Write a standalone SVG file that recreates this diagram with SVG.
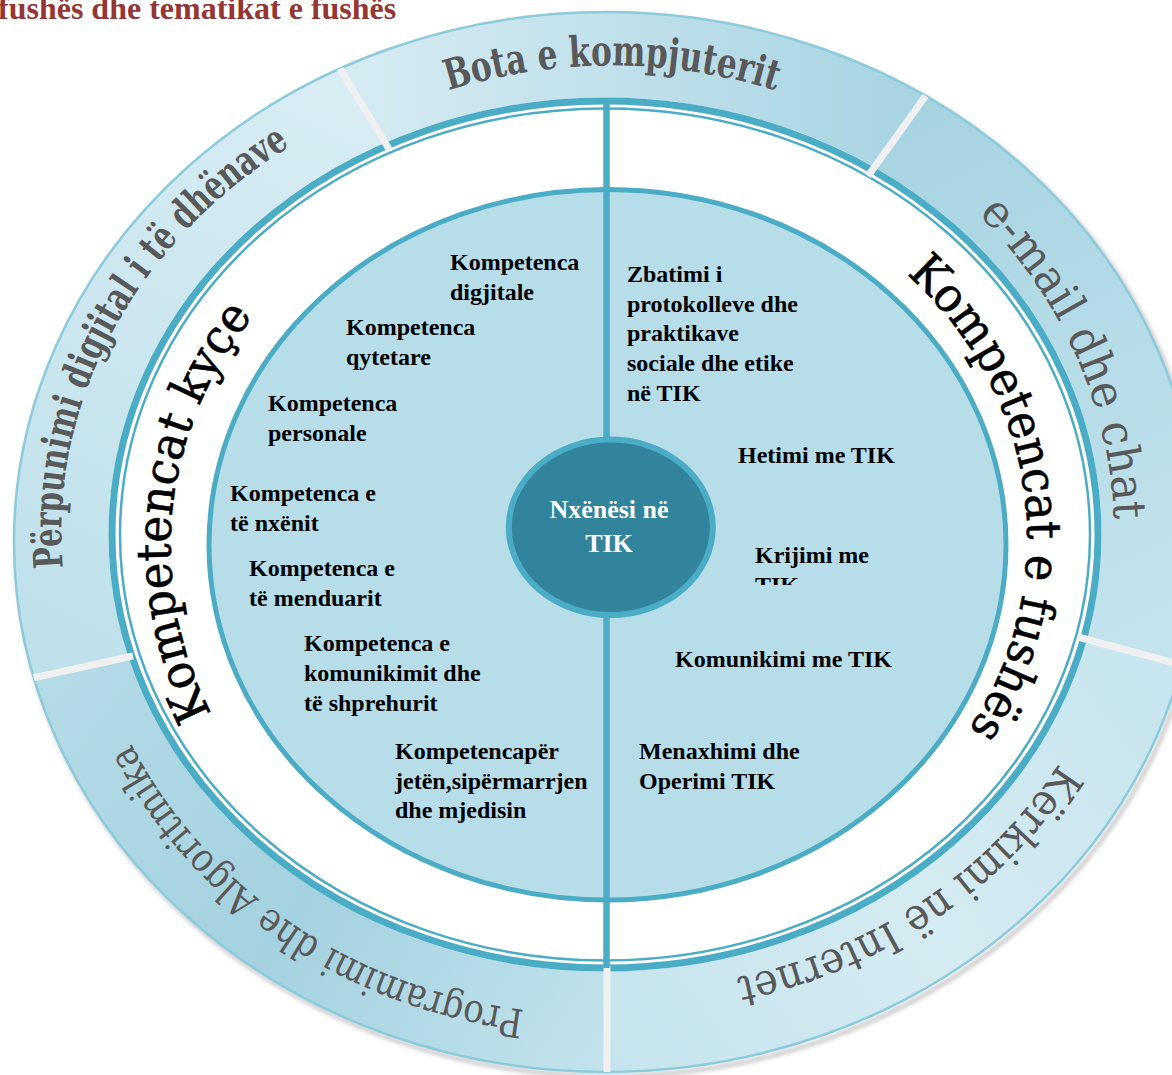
<svg xmlns="http://www.w3.org/2000/svg" width="1172" height="1075" viewBox="0 0 1172 1075">
<defs>
<style>
.lbl{font-family:"Liberation Serif","Times New Roman",serif;font-weight:bold;font-size:24px;fill:#000}
.ctr{font-family:"Liberation Serif","Times New Roman",serif;font-weight:bold;font-size:26px;fill:#fff}
.ring{font-family:"DejaVu Serif",serif;fill:#595959}
.band{font-family:"DejaVu Serif",serif;fill:#000}
.sep{stroke:#f0f0f0;stroke-width:7;fill:none}
.blue{stroke:#4bacc6;fill:none}
</style>
<clipPath id="outerClip"><ellipse cx="606" cy="542" rx="592" ry="530"/></clipPath>
<clipPath id="tikClip"><rect x="700" y="520" width="220" height="65"/></clipPath>
<filter id="blur" x="-10%" y="-10%" width="120%" height="120%"><feGaussianBlur stdDeviation="2"/></filter>
<linearGradient id="gA" gradientUnits="userSpaceOnUse" x1="340" y1="0" x2="920" y2="0"><stop offset="0" stop-color="#d7ecf3"/><stop offset="1" stop-color="#a7d4e2"/></linearGradient>
<linearGradient id="gB" gradientUnits="userSpaceOnUse" x1="900" y1="100" x2="1170" y2="640"><stop offset="0" stop-color="#a6d3e1"/><stop offset="1" stop-color="#c4e4ed"/></linearGradient>
<linearGradient id="gC" gradientUnits="userSpaceOnUse" x1="1170" y1="660" x2="607" y2="1075"><stop offset="0" stop-color="#c6e5ee"/><stop offset="0.5" stop-color="#d5ebf2"/><stop offset="1" stop-color="#c4e4ed"/></linearGradient>
<linearGradient id="gD" gradientUnits="userSpaceOnUse" x1="40" y1="680" x2="607" y2="1075"><stop offset="0" stop-color="#b5dbe6"/><stop offset="0.5" stop-color="#a4d2e0"/><stop offset="1" stop-color="#c3e3ec"/></linearGradient>
<linearGradient id="gE" gradientUnits="userSpaceOnUse" x1="340" y1="60" x2="30" y2="680"><stop offset="0" stop-color="#d9edf4"/><stop offset="1" stop-color="#bde0ea"/></linearGradient>
<path id="pBota" d="M 450 90 A 512 476 0 0 1 774 90"/>
<path id="pPerp" d="M 63 570 A 544 474 0 0 1 292 145"/>
<path id="pMail" d="M 978 214 A 512 474 0 0 1 1114 520"/>
<path id="pKerk" d="M 1059 763 A 505 460 0 0 1 736 978"/>
<path id="pProg" d="M 525 1010 A 512 474 0 0 1 131 743"/>
<path id="pKyce" d="M 213 716 A 440 395 0 0 1 255 314"/>
<path id="pFush" d="M 902 270 A 417 375 0 0 1 965 735"/>
</defs>

<text x="-2" y="19" font-family="Liberation Serif, Times New Roman, serif" font-weight="bold" font-size="32" fill="#943634">fushës dhe tematikat e fushës</text>

<g id="outer-ring">
<ellipse cx="609" cy="546" rx="592" ry="530" fill="none" stroke="#8a8a8a" stroke-width="4" opacity="0.5" filter="url(#blur)"/>
<g clip-path="url(#outerClip)">
<path d="M606 540 L68 -412 L1238 -338 Z" fill="url(#gA)"/>
<path d="M606 540 L1238 -338 L1754 790 Z" fill="url(#gB)"/>
<path d="M606 540 L1754 790 L606 1700 Z" fill="url(#gC)"/>
<path d="M606 540 L606 1700 L-534 814 Z" fill="url(#gD)"/>
<path d="M606 540 L-534 814 L68 -412 Z" fill="url(#gE)"/>
</g>
<ellipse cx="606" cy="542" rx="592" ry="530" fill="none" stroke="#8ccbdc" stroke-width="2.5"/>
<ellipse cx="605" cy="534.5" rx="496.5" ry="437" fill="#fff"/>
<ellipse class="blue" cx="605" cy="534.5" rx="493" ry="433.5" stroke-width="7"/>
<ellipse class="blue" cx="605" cy="534.5" rx="485" ry="426" stroke-width="2.5"/>
<g clip-path="url(#outerClip)">
<path class="sep" d="M 320 36 L 389 149"/>
<path class="sep" d="M 940 76 L 868 176"/>
<path class="sep" d="M 1078 637 L 1200 670"/>
<path class="sep" d="M 607 966 L 607 1080"/>
<path class="sep" d="M 10 683 L 133 656"/>
</g>
</g>

<g id="ring-labels">
<g id="seg-bota"><text class="ring" font-size="42" font-weight="bold" text-anchor="middle"><textPath href="#pBota" startOffset="50%" textLength="332" lengthAdjust="spacingAndGlyphs">Bota e kompjuterit</textPath></text></g>
<g id="seg-perpunimi"><text class="ring" font-size="40" font-weight="bold" text-anchor="middle"><textPath href="#pPerp" startOffset="50%" textLength="504" lengthAdjust="spacingAndGlyphs">Përpunimi digjital i të dhënave</textPath></text></g>
<g id="seg-email"><text class="ring" font-size="46" text-anchor="middle"><textPath href="#pMail" startOffset="50%" textLength="342" lengthAdjust="spacingAndGlyphs">e-mail dhe chat</textPath></text></g>
<g id="seg-kerkimi"><text class="ring" font-size="44" text-anchor="middle"><textPath href="#pKerk" startOffset="50%" textLength="398" lengthAdjust="spacingAndGlyphs">Kërkimi në Internet</textPath></text></g>
<g id="seg-programimi"><text class="ring" font-size="40" text-anchor="middle"><textPath href="#pProg" startOffset="50%" textLength="494" lengthAdjust="spacingAndGlyphs">Programimi dhe Algoritmika</textPath></text></g>
</g>

<g id="inner-circle">
<ellipse cx="607.5" cy="544.75" rx="398.5" ry="355.25" fill="#b7dde8" stroke="#4bacc6" stroke-width="5"/>
</g>

<g id="connectors">
<path class="blue" d="M 606.5 101 V 968" stroke-width="6.5"/>
</g>

<g id="band-labels">
<g id="kompetencat-kyce"><text class="band" font-size="48" text-anchor="middle" stroke="#000" stroke-width="0.6"><textPath href="#pKyce" startOffset="50%" textLength="423" lengthAdjust="spacingAndGlyphs">Kompetencat kyçe</textPath></text></g>
<g id="kompetencat-fushes"><text class="band" font-size="48" text-anchor="middle" stroke="#000" stroke-width="0.6"><textPath href="#pFush" startOffset="50%" textLength="502" lengthAdjust="spacingAndGlyphs">Kompetencat e fushës</textPath></text></g>
</g>

<g id="center-node">
<ellipse cx="610.8" cy="527.3" rx="102" ry="87.7" fill="#31849b" stroke="#4bacc6" stroke-width="6"/>
<text class="ctr" text-anchor="middle"><tspan x="609" y="518">Nxënësi në</tspan><tspan x="609" y="551.5">TIK</tspan></text>
</g>

<g id="k-digjitale"><text class="lbl"><tspan x="450" y="270">Kompetenca</tspan><tspan x="450" y="300">digjitale</tspan></text></g>
<g id="k-qytetare"><text class="lbl"><tspan x="346" y="335">Kompetenca</tspan><tspan x="346" y="365">qytetare</tspan></text></g>
<g id="k-personale"><text class="lbl"><tspan x="268" y="411">Kompetenca</tspan><tspan x="268" y="441">personale</tspan></text></g>
<g id="k-nxenit"><text class="lbl"><tspan x="230" y="501">Kompetenca e</tspan><tspan x="230" y="531">të nxënit</tspan></text></g>
<g id="k-menduarit"><text class="lbl"><tspan x="249" y="576">Kompetenca e</tspan><tspan x="249" y="606">të menduarit</tspan></text></g>
<g id="k-komunikimit"><text class="lbl"><tspan x="304" y="651">Kompetenca e</tspan><tspan x="304" y="681">komunikimit dhe</tspan><tspan x="304" y="711">të shprehurit</tspan></text></g>
<g id="k-jeten"><text class="lbl"><tspan x="395" y="759">Kompetencapër</tspan><tspan x="395" y="789">jetën,sipërmarrjen</tspan><tspan x="395" y="818">dhe mjedisin</tspan></text></g>

<g id="f-zbatimi"><text class="lbl"><tspan x="627" y="282">Zbatimi i</tspan><tspan x="627" y="312">protokolleve dhe</tspan><tspan x="627" y="341">praktikave</tspan><tspan x="627" y="371">sociale dhe etike</tspan><tspan x="627" y="401">në TIK</tspan></text></g>
<g id="f-hetimi"><text class="lbl" x="738" y="463">Hetimi me TIK</text></g>
<g id="f-krijimi"><text class="lbl" clip-path="url(#tikClip)"><tspan x="755" y="563">Krijimi me</tspan><tspan x="755" y="593">TIK</tspan></text></g>
<g id="f-komunikimi"><text class="lbl" x="675" y="667">Komunikimi me TIK</text></g>
<g id="f-menaxhimi"><text class="lbl"><tspan x="639" y="759">Menaxhimi dhe</tspan><tspan x="639" y="789">Operimi TIK</tspan></text></g>
</svg>
